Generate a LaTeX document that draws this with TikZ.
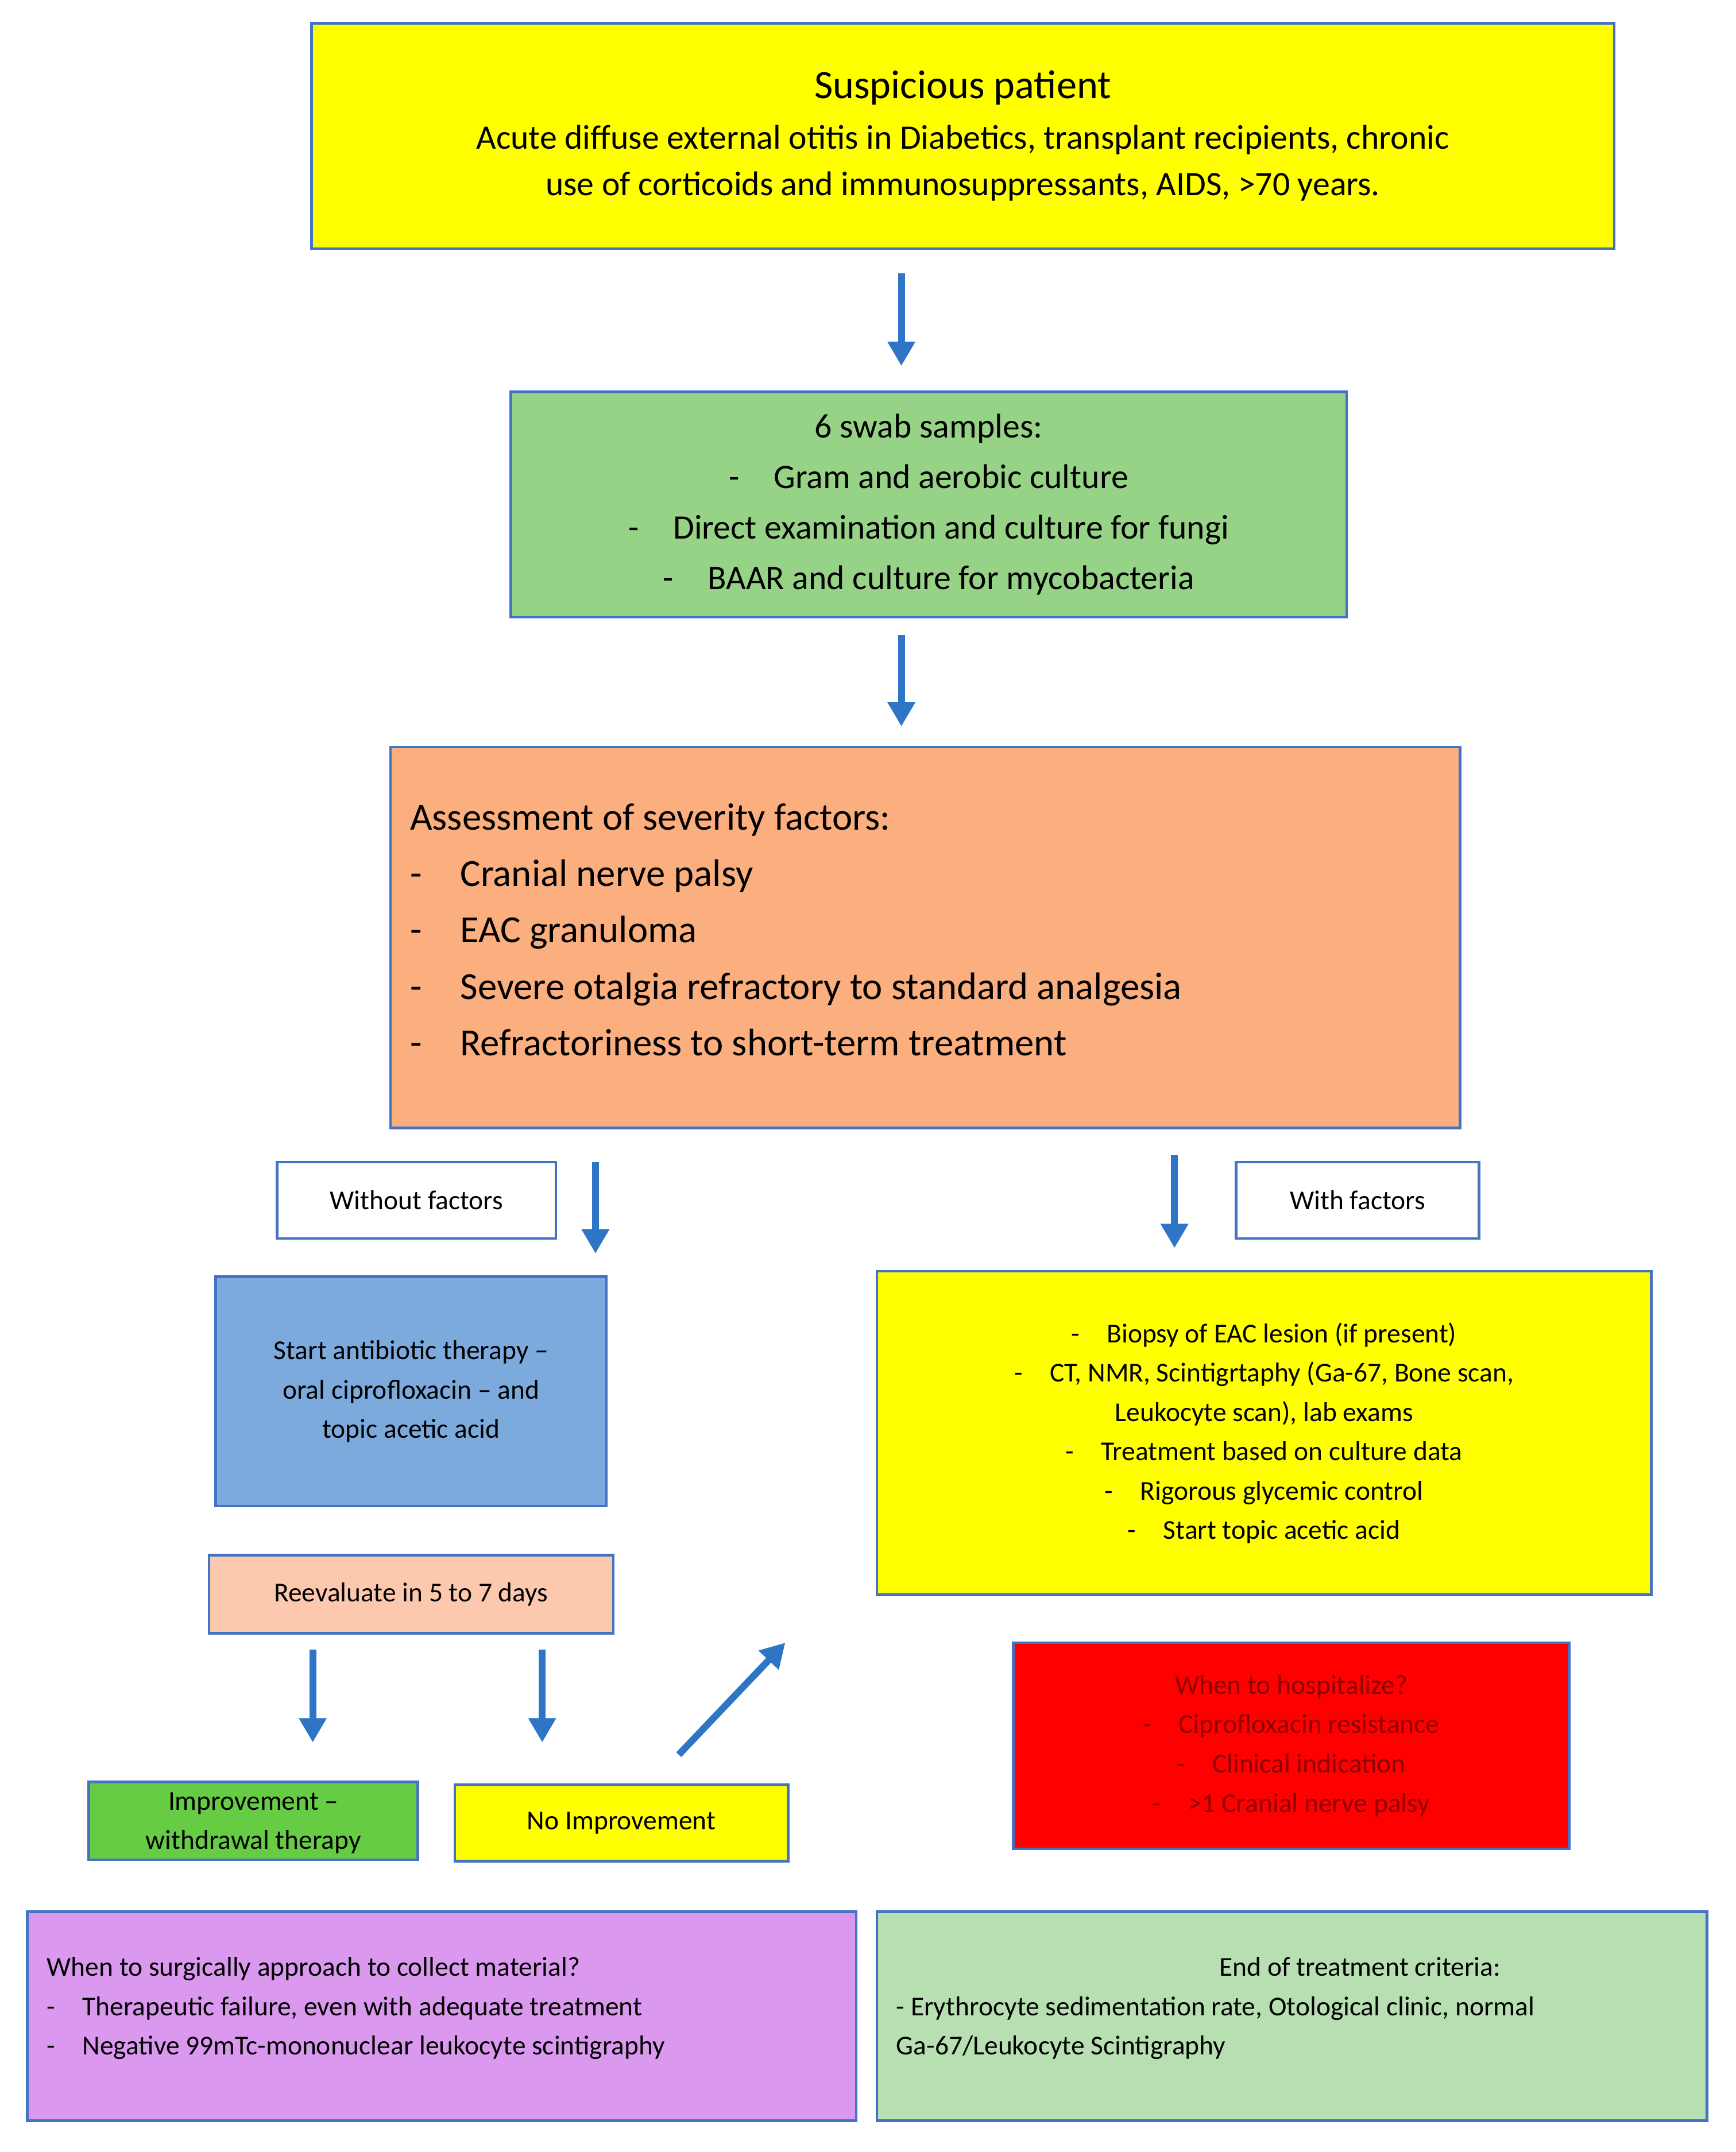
\documentclass[tikz,border=0pt]{standalone}
\usepackage{fontspec}
\setmainfont{Carlito}
\usetikzlibrary{arrows.meta}
\definecolor{bord}{HTML}{4472C4}
\definecolor{arr}{HTML}{2E75C6}
\definecolor{ylw}{HTML}{FFFF00}
\definecolor{grn}{HTML}{97D386}
\definecolor{org}{HTML}{FBAF7F}
\definecolor{blu}{HTML}{7DAADD}
\definecolor{pch}{HTML}{FCC9AE}
\definecolor{lime}{HTML}{66CC44}
\definecolor{prp}{HTML}{DA99EE}
\definecolor{lgr}{HTML}{B7DFB1}
\definecolor{dred}{HTML}{8B0000}
\begin{document}
\begin{tikzpicture}[x=0.02378cm,y=-0.02378cm,
 box/.style={draw=bord,line width=1.3pt,inner sep=0pt,align=center},
 sml/.style={font=\fontsize{13.5}{19.5}\selectfont},
 ar/.style={draw=arr,line width=3.4pt,-{Triangle[length=12pt,width=13pt]}}]
\useasboundingbox (0,0) rectangle (1271,1576);
\newcommand\bx[7]{\node[box,#6,minimum width={(#3-#1)*0.02378cm},minimum height={(#4-#2)*0.02378cm}] (#5) at ({(#1+#3)/2},{(#2+#4)/2}) {#7};}
\bx{228}{17}{1182}{182}{top}{fill=ylw,font=\fontsize{17}{23}\selectfont}{{\fontsize{20}{26}\selectfont Suspicious patient}\\[2pt]Acute diffuse external otitis in Diabetics, transplant recipients, chronic\\use of corticoids and immunosuppressants, AIDS, >70 years.}
\bx{374}{287}{986}{452}{swab}{fill=grn,font=\fontsize{17}{25}\selectfont}{6 swab samples:\\-\quad Gram and aerobic culture\\-\quad Direct examination and culture for fungi\\-\quad BAAR and culture for mycobacteria}
\bx{286}{547}{1069}{826}{sev}{fill=org}{}
\node[anchor=north west,align=left,font=\fontsize{19}{28}\selectfont,inner sep=0pt] (sevt) at (300,588) {Assessment of severity factors:\\-\quad Cranial nerve palsy\\-\quad EAC granuloma\\-\quad Severe otalgia refractory to standard analgesia\\-\quad Refractoriness to short-term treatment};
\bx{203}{851}{407}{907}{wo}{fill=white,sml}{Without factors}
\bx{905}{851}{1083}{907}{wi}{fill=white,sml}{With factors}
\bx{158}{935}{444}{1103}{abx}{fill=blu,sml}{Start antibiotic therapy --\\oral ciprofloxacin -- and\\topic acetic acid}
\bx{642}{931}{1209}{1168}{right}{fill=ylw,sml}{-\quad Biopsy of EAC lesion (if present)\\-\quad CT, NMR, Scintigrtaphy (Ga-67, Bone scan,\\Leukocyte scan), lab exams\\-\quad Treatment based on culture data\\-\quad Rigorous glycemic control\\-\quad Start topic acetic acid}
\bx{153}{1139}{449}{1196}{reev}{fill=pch,sml}{Reevaluate in 5 to 7 days}
\bx{65}{1305}{306}{1362}{imp}{fill=lime,sml,text depth=0pt}{Improvement --\\withdrawal therapy}
\bx{333}{1307}{577}{1363}{noimp}{fill=ylw,sml}{No Improvement}
\bx{742}{1203}{1149}{1354}{hosp}{fill=red,sml,text=dred}{When to hospitalize?\\-\quad Ciprofloxacin resistance\\-\quad Clinical indication\\-\quad >1 Cranial nerve palsy}
\bx{20}{1400}{627}{1553}{surg}{fill=prp}{}
\node[anchor=north west,align=left,sml,inner sep=0pt] (surgt) at (34,1433) {When to surgically approach to collect material?\\-\quad Therapeutic failure, even with adequate treatment\\-\quad Negative 99mTc-mononuclear leukocyte scintigraphy};
\bx{642}{1400}{1250}{1553}{end}{fill=lgr}{}
\node[anchor=north west,align=left,sml,inner sep=0pt] (endt) at (656,1433) {\hspace*{160pt}End of treatment criteria:\\- Erythrocyte sedimentation rate, Otological clinic, normal\\Ga-67/Leukocyte Scintigraphy};
\coordinate (a1) at (660,200); \coordinate (b1) at (660,268);
\coordinate (a2) at (660,465); \coordinate (b2) at (660,532);
\coordinate (a3) at (436,851); \coordinate (b3) at (436,918);
\coordinate (a4) at (860,846); \coordinate (b4) at (860,914);
\coordinate (a5) at (229,1208); \coordinate (b5) at (229,1276);
\coordinate (a6) at (397,1208); \coordinate (b6) at (397,1276);
\coordinate (a7) at (497,1285); \coordinate (b7) at (575,1203);
\foreach \i in {1,...,7} \draw[ar] (a\i) -- (b\i);
\end{tikzpicture}
\end{document}
